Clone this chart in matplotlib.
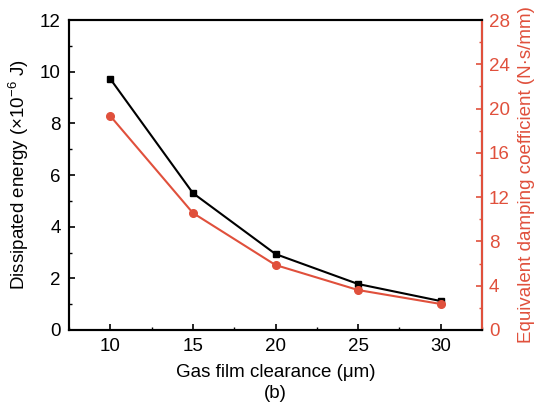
import matplotlib
matplotlib.use("Agg")
import matplotlib.pyplot as plt
from matplotlib.ticker import MultipleLocator

plt.rcParams['font.family'] = ['Liberation Sans', 'DejaVu Sans']
plt.rcParams['mathtext.fontset'] = 'custom'
plt.rcParams['mathtext.rm'] = 'Liberation Sans'

clearance = [10, 15, 20, 25, 30]
energy = [9.72, 5.30, 2.94, 1.78, 1.12]
damping = [19.33, 10.57, 5.87, 3.61, 2.35]

red = '#E0503C'
fs_tick = 13.5
fs_lab = 13.5

fig = plt.figure(figsize=(5.5, 4.07), dpi=100)
ax = fig.add_axes([69/550, 1-330/407, (482-69)/550, (330-20)/407])
ax.plot(clearance, energy, color='black', marker='s', markersize=5, linewidth=1.5)
ax.set_xlim(7.5, 32.5)
ax.set_ylim(0, 12)
ax.xaxis.set_major_locator(MultipleLocator(5))
ax.xaxis.set_minor_locator(MultipleLocator(2.5))
ax.yaxis.set_major_locator(MultipleLocator(2))
ax.yaxis.set_minor_locator(MultipleLocator(1))
ax.tick_params(which='both', direction='in', labelsize=fs_tick, top=False)
ax.tick_params(which='major', length=4, width=1.2, pad=6)
ax.tick_params(which='minor', length=2, width=1)
ax.set_xlabel('Gas film clearance (μm)', fontsize=fs_lab, labelpad=6)
ax.set_ylabel('Dissipated energy (×10$^{-6}$ J)', fontsize=fs_lab, labelpad=6)
for s in ax.spines.values():
    s.set_linewidth(1.5)

ax2 = ax.twinx()
ax2.plot(clearance, damping, color=red, marker='o', markersize=5.5, linewidth=1.5)
ax2.set_ylim(0, 28)
ax2.yaxis.set_major_locator(MultipleLocator(4))
ax2.yaxis.set_minor_locator(MultipleLocator(2))
ax2.tick_params(which='both', direction='in', labelsize=fs_tick, colors=red)
ax2.tick_params(which='major', length=4, width=1.2, pad=5)
ax2.tick_params(which='minor', length=2, width=1)
for s in ax2.spines.values():
    s.set_linewidth(1.5)
ax2.spines['right'].set_color(red)
ax2.set_ylabel('Equivalent damping coefficient (N·s/mm)', fontsize=fs_lab, color=red, labelpad=6)

fig.text((69+482)/2/550, 1-393/407, '(b)', ha='center', va='center', fontsize=fs_lab)

fig.savefig('out.png', dpi=100)
